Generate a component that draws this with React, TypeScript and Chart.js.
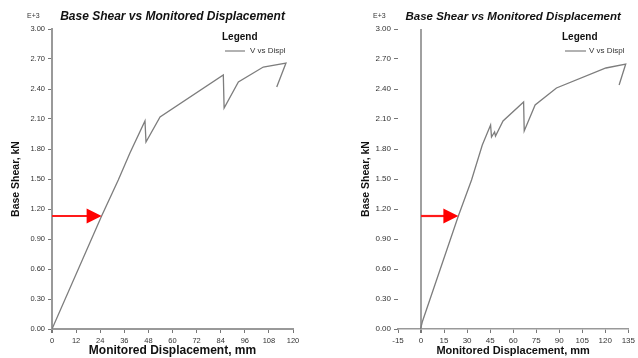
import { useEffect, useRef } from "react";
import { Chart, registerables } from "chart.js";

Chart.register(...registerables);

// ---- data ----
const leftDisp = [0, 24.7, 33, 38.8, 46.3, 46.8, 53.8, 85.3, 85.7, 92.8, 105.2, 116.5, 111.9];
const leftShear = [0, 1.13, 1.49, 1.76, 2.08, 1.87, 2.12, 2.54, 2.21, 2.47, 2.62, 2.66, 2.42];

const rightDisp = [-0.3, 0.8, 24.3, 32.9, 39.9, 45.3, 45.9, 47.9, 48.5, 53.4, 66.8, 67.2, 74.3, 88.2, 120.4, 133.3, 129];
const rightShear = [0, 0.07, 1.13, 1.49, 1.84, 2.04, 1.92, 1.97, 1.93, 2.08, 2.27, 1.98, 2.24, 2.41, 2.61, 2.65, 2.44];

const leftXTicks = [0, 12, 24, 36, 48, 60, 72, 84, 96, 108, 120];
const rightXTicks = [-15, 0, 15, 30, 45, 60, 75, 90, 105, 120, 135];
const yTicks = [0, 0.3, 0.6, 0.9, 1.2, 1.5, 1.8, 2.1, 2.4, 2.7, 3.0];

const arrowShear = [1.13, 1.13];
const arrowTipDisp = [24.7, 24.3];

const chartTitle = "Base Shear vs Monitored Displacement";
const xTitle = "Monitored Displacement, mm";
const yTitle = "Base Shear, kN";
const legendTitle = "Legend";
const seriesLabel = "V vs Displ";
const exponentLabel = "E+3";

const FONT = "'Liberation Sans', Arial, Helvetica, sans-serif";

type Panel = {
  disp: number[];
  shear: number[];
  xTicks: number[];
  arrowIdx: number;
  padRight: number;
  yWidth: number;
  yBorder: boolean;
  zeroLine: boolean;
  titleSize: number;
  xTitleSize: number;
  yTitleX: number;
  expX: number;
  legendX: number;
  lineX0: number;
  lineX1: number;
  textX: number;
  tickSize: number;
};

const panels: Panel[] = [
  {
    disp: leftDisp, shear: leftShear, xTicks: leftXTicks, arrowIdx: 0,
    padRight: 26, yWidth: 52, yBorder: true, zeroLine: false,
    titleSize: 12, xTitleSize: 12, yTitleX: 16, expX: 27,
    legendX: 222, lineX0: 225, lineX1: 245, textX: 250, tickSize: 7.5,
  },
  {
    disp: rightDisp, shear: rightShear, xTicks: rightXTicks, arrowIdx: 1,
    padRight: 7, yWidth: 79, yBorder: false, zeroLine: true,
    titleSize: 11.5, xTitleSize: 11, yTitleX: 47, expX: 54,
    legendX: 243, lineX0: 246, lineX1: 267, textX: 270, tickSize: 8,
  },
];

function makePlugin(p: Panel) {
  return {
    id: "decor",
    afterDatasetsDraw(chart: any) {
      const ctx = chart.ctx;
      const xs = chart.scales.x;
      const ys = chart.scales.y;
      const y = ys.getPixelForValue(arrowShear[p.arrowIdx]);
      const x0 = xs.getPixelForValue(0);
      const tip = xs.getPixelForValue(arrowTipDisp[p.arrowIdx]);
      ctx.save();
      ctx.strokeStyle = "#ff1a1a";
      ctx.fillStyle = "#ff0000";
      ctx.lineWidth = 2.2;
      ctx.beginPath();
      ctx.moveTo(x0, y);
      ctx.lineTo(tip - 12, y);
      ctx.stroke();
      ctx.beginPath();
      ctx.moveTo(tip, y);
      ctx.lineTo(tip - 15, y - 7.5);
      ctx.lineTo(tip - 15, y + 7.5);
      ctx.closePath();
      ctx.fill();
      ctx.restore();
    },
    afterDraw(chart: any) {
      const ctx = chart.ctx;
      const a = chart.chartArea;
      const cx = (a.left + a.right) / 2;
      ctx.save();
      ctx.fillStyle = "#111";
      ctx.textBaseline = "middle";
      // title
      ctx.textAlign = "center";
      ctx.font = `italic bold ${p.titleSize}px ${FONT}`;
      ctx.fillText(chartTitle, cx, 17);
      // x title
      ctx.font = `bold ${p.xTitleSize}px ${FONT}`;
      ctx.fillText(xTitle, cx, 351);
      // y title
      ctx.save();
      ctx.translate(p.yTitleX, (a.top + a.bottom) / 2);
      ctx.rotate(-Math.PI / 2);
      ctx.font = `bold 10.5px ${FONT}`;
      ctx.fillText(yTitle, 0, 0);
      ctx.restore();
      // exponent
      ctx.textAlign = "left";
      ctx.fillStyle = "#333";
      ctx.font = `7px ${FONT}`;
      ctx.fillText(exponentLabel, p.expX, 16);
      // legend
      ctx.fillStyle = "#111";
      ctx.font = `bold 10px ${FONT}`;
      ctx.fillText(legendTitle, p.legendX, 37);
      ctx.strokeStyle = "#888";
      ctx.lineWidth = 1.3;
      ctx.beginPath();
      ctx.moveTo(p.lineX0, 51);
      ctx.lineTo(p.lineX1, 51);
      ctx.stroke();
      ctx.fillStyle = "#333";
      ctx.font = `8px ${FONT}`;
      ctx.fillText(seriesLabel, p.textX, 51);
      ctx.restore();
    },
  };
}

function PanelChart({ p, left }: { p: Panel; left: number }) {
  const ref = useRef<HTMLCanvasElement | null>(null);
  useEffect(() => {
    if (!ref.current) return;
    const points = p.disp.map((d, i) => ({ x: d, y: p.shear[i] }));
    const chart = new Chart(ref.current, {
      type: "scatter",
      data: {
        datasets: [
          {
            label: seriesLabel,
            data: points,
            showLine: true,
            borderColor: "#7d7d7d",
            borderWidth: 1.3,
            pointRadius: 0,
            tension: 0,
          },
        ],
      },
      options: {
        animation: false,
        responsive: false,
        devicePixelRatio: 1,
        layout: { padding: { left: 0, right: p.padRight, top: 29, bottom: 0 } },
        plugins: { legend: { display: false }, tooltip: { enabled: false }, title: { display: false } },
        scales: {
          x: {
            type: "linear",
            min: p.xTicks[0],
            max: p.xTicks[p.xTicks.length - 1],
            afterBuildTicks: (s: any) => { s.ticks = p.xTicks.map((v) => ({ value: v })); },
            afterFit: (s: any) => { s.height = 29; },
            border: { display: true, color: "#999", width: p.yBorder ? 2 : 1.5 },
            grid: {
              drawOnChartArea: p.zeroLine,
              drawTicks: true,
              tickLength: 4,
              tickColor: "#777",
              color: (c: any) => (p.zeroLine && c.tick && c.tick.value === 0 ? "#a0a0a0" : "rgba(0,0,0,0)"),
              lineWidth: (c: any) => (c.tick && c.tick.value === 0 ? 2 : 1),
            },
            ticks: {
              color: "#333",
              font: { size: p.tickSize, family: FONT },
              padding: 3,
              maxRotation: 0,
              autoSkip: false,
              callback: (v: any) => String(v),
            },
          },
          y: {
            type: "linear",
            min: 0,
            max: 3,
            afterBuildTicks: (s: any) => { s.ticks = yTicks.map((v) => ({ value: v })); },
            afterFit: (s: any) => { s.width = p.yWidth; },
            border: { display: p.yBorder, color: "#999", width: 2 },
            grid: { drawOnChartArea: false, drawTicks: true, tickLength: 4, tickColor: "#777" },
            ticks: {
              color: "#333",
              font: { size: p.tickSize, family: FONT },
              padding: 3,
              autoSkip: false,
              callback: (v: any) => Number(v).toFixed(2),
            },
          },
        },
      },
      plugins: [makePlugin(p)],
    } as any);
    return () => chart.destroy();
  }, [p]);
  return (
    <canvas
      ref={ref}
      width={319}
      height={358}
      style={{ position: "absolute", left, top: 0, width: 319, height: 358, display: "block" }}
    />
  );
}

export default function App() {
  return (
    <div style={{ position: "fixed", left: 0, top: 0, width: 638, height: 358, background: "#fff" }}>
      <PanelChart p={panels[0]} left={0} />
      <PanelChart p={panels[1]} left={319} />
    </div>
  );
}
